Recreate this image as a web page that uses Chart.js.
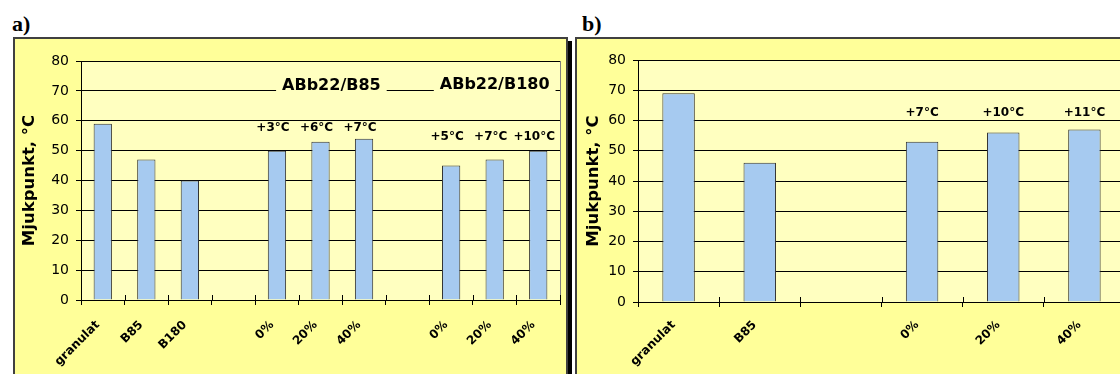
<!DOCTYPE html>
<html>
<head>
<meta charset="utf-8">
<script src="https://cdn.jsdelivr.net/npm/chart.js@4.4.1/dist/chart.umd.min.js"></script>
<style>
  html, body { margin:0; padding:0; background:#fff; width:1120px; height:374px; overflow:hidden; }
  .panel { position:absolute; background:#FFFF99; box-sizing:border-box; }
  #boxA { left:13px; top:37px; width:555px; height:420px; border:2px solid #404040; box-shadow:4px 4px 0 #000; }
  #boxB { left:575px; top:37px; width:640px; height:420px; border:2px solid #404040; }
  .plabel { position:absolute; font-family:"Liberation Serif", "Times New Roman", serif; font-weight:bold; font-size:22px; line-height:22px; color:#000; }
  canvas { position:absolute; top:0; }
  #cA { left:0; }
  #cB { left:571px; }
</style>
</head>
<body>
<div class="panel" id="boxA"></div>
<div class="panel" id="boxB"></div>
<div class="plabel" style="left:12px; top:13px;">a)</div>
<div class="plabel" style="left:582px; top:13px;">b)</div>
<canvas id="cA" width="571" height="374"></canvas>
<canvas id="cB" width="571" height="374"></canvas>
<script>
// ---- data ----
const catsA = ['granulat', 'B85', 'B180', '', '0%', '20%', '40%', '', '0%', '20%', '40%'];
const valsA = [59, 47, 40, null, 50, 53, 54, null, 45, 47, 50];
const diffLabelsA = ['', '', '', '', '+3°C', '+6°C', '+7°C', '', '+5°C', '+7°C', '+10°C'];
const groupTitlesA = ['ABb22/B85', 'ABb22/B180'];

const catsB = ['granulat', 'B85', '', '0%', '20%', '40%'];
const valsB = [69, 46, null, 53, 56, 57];
const diffLabelsB = ['', '', '', '+7°C', '+10°C', '+11°C'];

const yTicks = [0, 10, 20, 30, 40, 50, 60, 70, 80];
const yTitle = 'Mjukpunkt, °C';

// ---- styling ----
Chart.defaults.color = '#000';
Chart.defaults.font.family = '"DejaVu Sans", Verdana, sans-serif';
const FONT = '"DejaVu Sans", Verdana, sans-serif';
const PLOT_BG = '#FFFFC0';

function makePlugin(labels, levelOf, dx, titles) {
  return {
    id: 'annot',
    beforeDraw(chart) {
      const {ctx, chartArea: a} = chart;
      ctx.save();
      ctx.fillStyle = PLOT_BG;
      ctx.fillRect(a.left, a.top, a.right - a.left, a.bottom - a.top);
      ctx.strokeStyle = '#808080';
      ctx.lineWidth = 1;
      ctx.strokeRect(Math.round(a.left) + 0.5, Math.round(a.top) + 0.5, Math.round(a.right - a.left), Math.round(a.bottom - a.top));
      ctx.restore();
    },
    afterDatasetsDraw(chart) {
      const {ctx, scales: {x, y}, chartArea: a} = chart;
      ctx.save();
      // crossing tick marks on the category axis (upper half)
      ctx.strokeStyle = '#000';
      ctx.lineWidth = 1;
      ctx.beginPath();
      for (let i = 0; i <= x.ticks.length; i++) {
        const px = Math.round(x.getPixelForValue(i - 0.5)) + 0.5;
        ctx.moveTo(px, Math.round(a.bottom) - 5);
        ctx.lineTo(px, Math.round(a.bottom));
      }
      ctx.stroke();

      ctx.fillStyle = '#000';
      ctx.textAlign = 'center';
      ctx.textBaseline = 'middle';
      ctx.font = 'bold 12px ' + FONT;
      labels.forEach((t, i) => {
        if (!t) return;
        ctx.fillText(t, x.getPixelForValue(i) + dx, y.getPixelForValue(levelOf(i)));
      });
      ctx.font = 'bold 16px ' + FONT;
      titles.forEach(tt => {
        const px = x.getPixelForValue(tt.pos);
        const py = y.getPixelForValue(tt.level);
        const w = ctx.measureText(tt.text).width;
        ctx.fillStyle = PLOT_BG;
        ctx.fillRect(px - w / 2 - 6, py - 9, w + 12, 18);
        ctx.fillStyle = '#000';
        ctx.fillText(tt.text, px, py);
      });
      ctx.restore();
    }
  };
}

function makeChart(id, cats, vals, cfg) {
  return new Chart(document.getElementById(id), {
    type: 'bar',
    data: {
      labels: cats,
      datasets: [{
        data: vals,
        backgroundColor: '#A6CAF0',
        borderColor: '#333333',
        borderWidth: 1,
        borderSkipped: 'bottom',
        categoryPercentage: 1,
        barPercentage: cfg.barPct
      }]
    },
    options: {
      responsive: false,
      animation: false,
      devicePixelRatio: 1,
      layout: { padding: cfg.padding },
      plugins: { legend: { display: false }, tooltip: { enabled: false }, title: { display: false } },
      scales: {
        x: {
          offset: true,
          grid: { display: true, offset: true, drawOnChartArea: false, drawTicks: true, tickLength: 5, color: '#000', lineWidth: 1 },
          border: { display: true, color: '#000', width: 1 },
          ticks: { autoSkip: false, minRotation: 45, maxRotation: 45, padding: cfg.xPad, labelOffset: -5, color: '#000',
                   font: { family: FONT, size: 12, weight: 'bold' } },
          afterFit: s => { s.height = cfg.xHeight; }
        },
        y: {
          min: 0, max: 80,
          afterBuildTicks: s => { s.ticks = yTicks.map(v => ({ value: v })); },
          grid: { color: '#000', lineWidth: 1, tickLength: 5, drawTicks: true },
          border: { display: true, color: '#000', width: 1 },
          ticks: { padding: 7, color: '#000', font: { family: FONT, size: 14 } },
          title: { display: true, text: yTitle, color: '#000', padding: { top: cfg.titlePad, bottom: 0 },
                   font: { family: FONT, size: 16.5, weight: 'bold' } },
          afterFit: s => { s.width = cfg.yWidth; }
        }
      }
    },
    plugins: [cfg.plugin]
  });
}

makeChart('cA', catsA, valsA, {
  barPct: 0.42,
  padding: { left: 14, top: 61, right: 11, bottom: 0 },
  yWidth: 67, xHeight: 74, xPad: 13, titlePad: 6,
  plugin: makePlugin(diffLabelsA, i => (i < 7 ? 57.5 : 54.5), -4, [
    { text: groupTitlesA[0], pos: 5.25, level: 71.7 },
    { text: groupTitlesA[1], pos: 9, level: 71.9 }
  ])
});

makeChart('cB', catsB, valsB, {
  barPct: 0.4,
  padding: { left: 13, top: 60, right: 17, bottom: 0 },
  yWidth: 54, xHeight: 72, xPad: 11, titlePad: 0,
  plugin: makePlugin(diffLabelsB, i => 62.5, 0, [])
});
</script>
</body>
</html>
